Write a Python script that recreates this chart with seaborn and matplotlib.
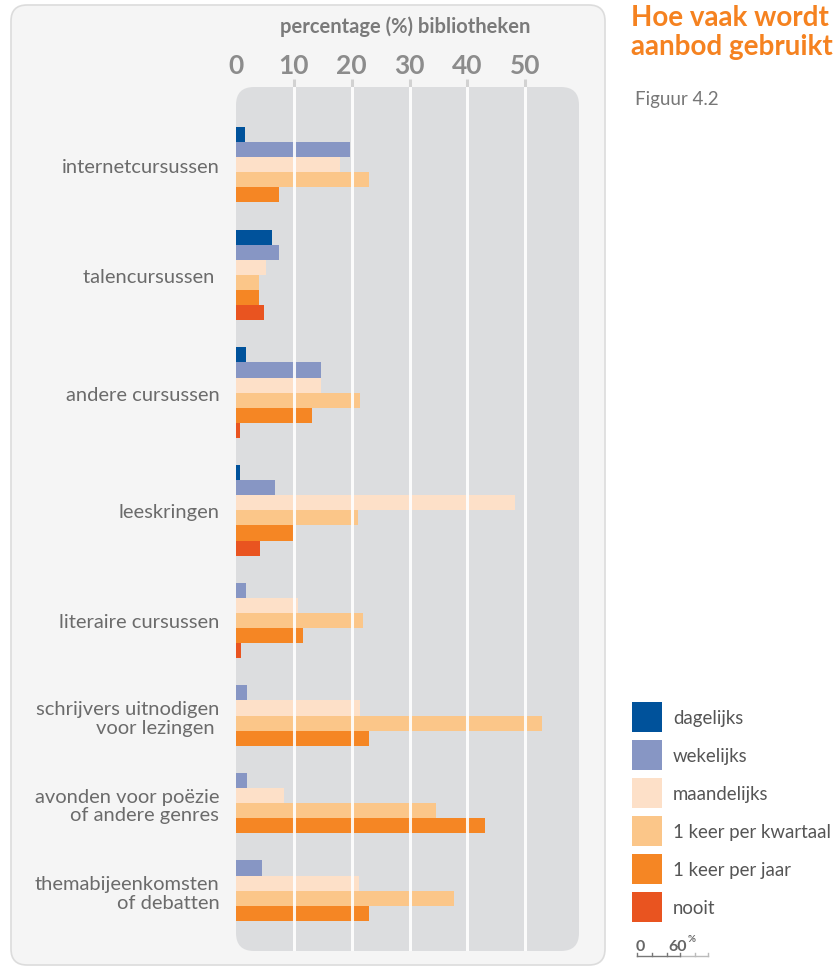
import numpy as np
import pandas as pd
import seaborn as sns
import matplotlib
matplotlib.use("Agg")
import matplotlib.pyplot as plt
from matplotlib.patches import FancyBboxPatch, Patch
from matplotlib.lines import Line2D

# ---------------- data ----------------
categories = [
    "internetcursussen",
    "talencursussen ",
    "andere cursussen",
    "leeskringen",
    "literaire cursussen",
    "schrijvers uitnodigen\nvoor lezingen ",
    "avonden voor poëzie\nof andere genres",
    "themabijeenkomsten\nof debatten",
]
frequencies = ["dagelijks", "wekelijks", "maandelijks",
               "1 keer per kwartaal", "1 keer per jaar", "nooit"]
dagelijks   = [1.5, 6.2, 1.7, 0.7, 0.0, 0.0, 0.0, 0.0]
wekelijks   = [19.7, 7.4, 14.7, 6.7, 1.7, 1.9, 1.9, 4.5]
maandelijks = [18.0, 5.2, 14.7, 48.3, 10.7, 21.5, 8.3, 21.3]
kwartaal    = [23.0, 4.0, 21.5, 21.1, 22.0, 52.9, 34.6, 37.7]
jaar        = [7.4, 4.0, 13.1, 9.9, 11.6, 23.0, 43.1, 23.0]
nooit       = [0.0, 4.8, 0.7, 4.2, 0.9, 0.0, 0.0, 0.0]
xticks = [0, 10, 20, 30, 40, 50]

colors = ["#00529b", "#8796c4", "#fde0c8", "#fbc689", "#f58624", "#e95420"]
palette = dict(zip(frequencies, colors))

series = [dagelijks, wekelijks, maandelijks, kwartaal, jaar, nooit]

# long table; zero bars are left out and the remaining bars packed per group
GAP = 1.8
rows = []
k = 0
for g, cat in enumerate(categories):
    for f, vals in zip(frequencies, series):
        if vals[g] > 0:
            rows.append(dict(activity=cat, freq=f, value=vals[g], pos=k + g * GAP, group=g))
            k += 1
df = pd.DataFrame(rows)

# ---------------- figure ----------------
W, H = 837, 970
fig = plt.figure(figsize=(W / 100, H / 100), dpi=100, facecolor="white")
plt.rcParams["font.family"] = ["Lato", "DejaVu Sans"]

def box(x0, y0, x1, y1, r, fc, ec="none", lw=0, z=0):
    p = FancyBboxPatch(((x0 + r) / 100, (H - y1 + r) / 100),
                       (x1 - x0 - 2 * r) / 100, (y1 - y0 - 2 * r) / 100,
                       boxstyle=f"round,pad={r/100}", transform=fig.dpi_scale_trans,
                       fc=fc, ec=ec, lw=lw, zorder=z)
    fig.add_artist(p)

# outer card and inner panel
box(11, 6, 605, 966, 16, "#f5f5f5", "#dcdcdc", 1.2, z=-10)
box(236, 88, 579, 952, 18, "#dcdddf", z=-9)

x0, x1, ytop, ybot = 236, 579, 88, 952
ax = fig.add_axes([x0 / W, 1 - ybot / H, (x1 - x0) / W, (ybot - ytop) / H])
ax.patch.set_alpha(0)

sns.barplot(data=df, x="value", y="pos", hue="freq", hue_order=frequencies,
            palette=palette, orient="h", native_scale=True, dodge=False,
            width=1.0, saturation=1, errorbar=None, linewidth=0,
            legend=False, ax=ax)

px_per_unit = 5.786
ax.set_xlim(0, (x1 - x0) / px_per_unit)
ax.set_ylim(df["pos"].max() + 0.5 + 2.0, df["pos"].min() - 0.5 - 2.65)

for s in ax.spines.values():
    s.set_visible(False)

# white vertical grid lines on top of bars
for t in xticks[1:]:
    ax.axvline(t, color="white", lw=2.2, alpha=0.9, zorder=5)

ax.set_xlabel("")
ax.set_ylabel("")
ax.xaxis.tick_top()
ax.set_xticks(xticks)
ax.set_xticklabels([str(t) for t in xticks], fontsize=19, fontweight="bold", color="#8c8c8c")
ax.tick_params(axis="x", which="both", top=True, bottom=False, length=6, width=2.2,
               color="#d2d2d2", pad=1, direction="out")
ax.xaxis.get_major_ticks()[0].tick2line.set_visible(False)

centers = df.groupby("group")["pos"].agg(lambda s: (s.min() + s.max()) / 2)
ax.set_yticks(centers.values)
ax.set_yticklabels(categories, fontsize=14.5, color="#6b6b6b", linespacing=1.12)
ax.tick_params(axis="y", length=0, pad=12)

fig.text(405 / W, 1 - 27 / H, "percentage (%) bibliotheken", ha="center", va="center",
         fontsize=14.5, fontweight="bold", color="#7a7a7a")

# title
fig.text(631 / W, 1 - 5 / H, "Hoe vaak wordt\naanbod gebruikt", ha="left", va="top",
         fontsize=20, fontweight="bold", color="#f58220", linespacing=1.15)
fig.text(635 / W, 1 - 99 / H, "Figuur 4.2", ha="left", va="center",
         fontsize=13.5, color="#777777")

# legend
lfs = 13.4
lpx = lfs * 100 / 72
hh = (30 / lpx - 0.245) / 0.65
fig.legend(handles=[Patch(facecolor=palette[f], edgecolor="none") for f in frequencies],
           labels=frequencies, loc="upper left",
           bbox_to_anchor=(632 / W, 1 - 703 / H), frameon=False,
           fontsize=lfs, handlelength=30 / lpx, handleheight=hh,
           labelspacing=8 / lpx, handletextpad=11 / lpx, borderpad=0, borderaxespad=0,
           labelcolor="#555555")

# scale indicator
fig.text(636 / W, 1 - 951 / H, "0", fontsize=11.5, fontweight="bold", color="#666666", ha="left", va="baseline")
fig.text(668 / W, 1 - 951 / H, "60", fontsize=11.5, fontweight="bold", color="#666666", ha="left", va="baseline")
fig.text(688 / W, 1 - 942 / H, "%", fontsize=7, fontweight="bold", color="#666666", ha="left", va="baseline")
fig.add_artist(Line2D([637 / W, 680 / W], [1 - 957 / H] * 2, color="#777777", lw=1, transform=fig.transFigure))
fig.add_artist(Line2D([680 / W, 708 / W], [1 - 957 / H] * 2, color="#bbbbbb", lw=1, transform=fig.transFigure))
for xt in [637, 652, 667, 680, 695, 708]:
    c = "#777777" if xt <= 680 else "#bbbbbb"
    fig.add_artist(Line2D([xt / W] * 2, [1 - 957 / H, 1 - 954 / H], color=c, lw=1, transform=fig.transFigure))

fig.savefig("out.png", dpi=100, facecolor="white")
